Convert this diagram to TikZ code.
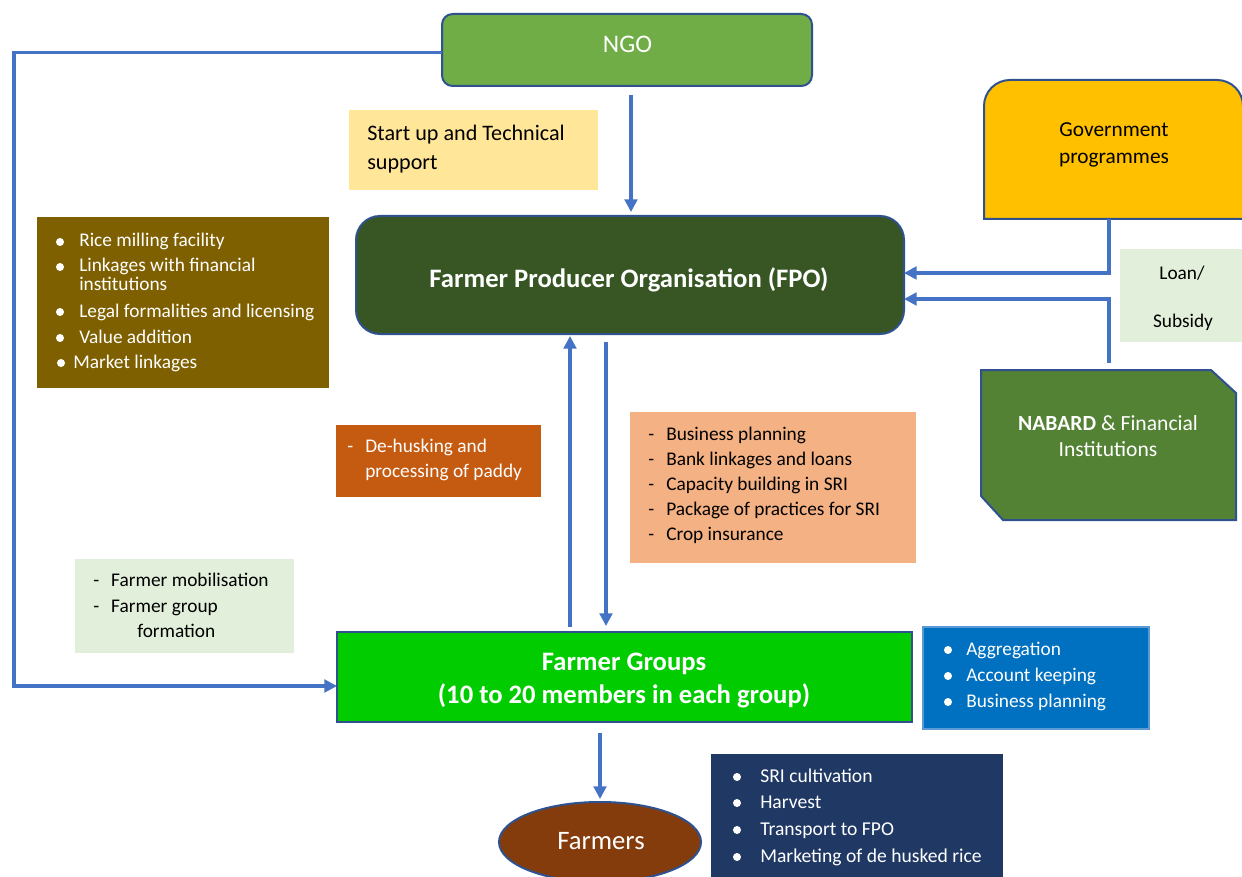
\documentclass[tikz,border=0pt]{standalone}
\usepackage{fontspec}
\setmainfont{Carlito}
\usetikzlibrary{arrows.meta,fit,shapes.geometric}
\definecolor{ngoc}{HTML}{70AD47}
\definecolor{startc}{HTML}{FFE699}
\definecolor{fpoc}{HTML}{375623}
\definecolor{brownc}{HTML}{7F6000}
\definecolor{govc}{HTML}{FFC000}
\definecolor{paleg}{HTML}{E2EFDA}
\definecolor{nabc}{HTML}{548235}
\definecolor{orangec}{HTML}{C55A11}
\definecolor{salmonc}{HTML}{F4B183}
\definecolor{fgc}{HTML}{00CC00}
\definecolor{bluec}{HTML}{0070C0}
\definecolor{blueedge}{HTML}{5B9BD5}
\definecolor{navyc}{HTML}{203864}
\definecolor{farmc}{HTML}{843C0C}
\definecolor{bordc}{HTML}{2F528F}
\definecolor{linec}{HTML}{4472C4}
\begin{document}
\begin{tikzpicture}[x=0.75pt,y=-0.75pt,
  area/.style={fit={#1}, inner sep=0pt, outer sep=0pt},
  edged/.style={draw=bordc, line width=1.5pt},
  conn/.style={draw=linec, line width=2.3pt},
  arr/.style={conn, -{Triangle[length=9.5pt,width=9.5pt]}},
  lst/.style={anchor=base west, inner sep=0pt, text=white, font=\fontsize{14.5}{17}\selectfont},
  blk/.style={lst, text=black}]
\clip (0,0) rectangle (1242,877);
\fill[white] (0,0) rectangle (1242,877);

% ---------- boxes ----------
\node[area={(442,14) (812,86)}, rounded corners=8pt, fill=ngoc, edged] (ngo) {};
\node[area={(349,110) (598,190)}, fill=startc] (start) {};
\node[area={(356,216) (904,334)}, rounded corners=18pt, fill=fpoc, edged] (fpo) {};
\node[area={(37,217) (329,388)}, fill=brownc] (brown) {};
\draw[edged, fill=govc] (984,219) -- (984,106) arc[start angle=180,end angle=90,radius=19.5pt]
  -- (1217,80) arc[start angle=90,end angle=0,radius=19.5pt] -- (1243,219) -- cycle;
\node[area={(984,80) (1243,219)}] (gov) {};
\node[area={(1120,249) (1242,342)}, fill=paleg] (loan) {};
\draw[edged, fill=nabc] (981,370) -- (1211,370) -- (1236,393) -- (1236,520) -- (1003,520) -- (981,496) -- cycle;
\node[area={(981,370) (1236,520)}] (nab) {};
\node[area={(336,425) (541,497)}, fill=orangec] (orange) {};
\node[area={(630,412) (916,563)}, fill=salmonc] (salmon) {};
\node[area={(75,559) (294,653)}, fill=paleg] (fm) {};
\node[area={(337,632) (912,722)}, fill=fgc, edged] (fg) {};
\node[area={(923,627) (1149,729)}, fill=bluec, draw=blueedge, line width=1pt] (blue) {};
\node[area={(711,754) (1003,880)}, fill=navyc] (navy) {};
\node[ellipse, minimum width=151.5pt, minimum height=60pt, inner sep=0pt, fill=farmc, edged] (farm) at (600,842) {};

% ---------- texts ----------
\node[anchor=base, inner sep=0pt, text=white, font=\fontsize{19}{20}\selectfont] (ngotext) at (627.5,53) {NGO};
\node[anchor=base, inner sep=0pt, text=white, font=\bfseries\fontsize{20}{20}\selectfont] (fpotext) at (629,287)
  {Farmer Producer Organisation (FPO)};
\node[anchor=base, inner sep=0pt, text=white, font=\fontsize{20}{20}\selectfont] (farmtext) at (601,849) {Farmers};

\node[blk, font=\fontsize{16.6}{19}\selectfont] (st1) at (367,141) {Start up and Technical};
\node[blk, font=\fontsize{16.6}{19}\selectfont] (st2) at (367,170) {support};

\node[align=center, font=\fontsize{16}{20.25}\selectfont] (govtext) at (1114,145) {Government\\programmes};
\node[font=\fontsize{14.5}{17}\selectfont] (loan1) at (1182,273) {Loan/};
\node[font=\fontsize{14.5}{17}\selectfont] (loan2) at (1183,322) {Subsidy};
\node[align=center, text=white, font=\fontsize{16.2}{19.5}\selectfont] (nabtext) at (1108,436)
  {\textbf{NABARD} \& Financial\\Institutions};
\node[align=center, text=white, font=\bfseries\fontsize{20}{24.75}\selectfont] (fgtext) at (624,680.5)
  {Farmer Groups\\(10 to 20 members in each group)};

% brown list
\foreach \t/\y [count=\i] in {Rice milling facility/247, Linkages with financial/272, institutions/291,
  Legal formalities and licensing/317, Value addition/343}
  \node[lst] (br\i) at (79,\y) {\t};
\node[lst] (br6) at (73,368) {Market linkages};
\foreach \x/\y in {60/242, 60/267, 60/312, 60/338, 61/363}
  \fill[white] (\x,\y) circle (4);

% salmon list
\foreach \t/\y [count=\i] in {Business planning/440, Bank linkages and loans/465,
  Capacity building in SRI/490, Package of practices for SRI/515, Crop insurance/540}
  \node[blk] (sa\i) at (648,\y) {\makebox[13.5pt][l]{-}\t};

% orange
\node[lst] (or1) at (347,452) {\makebox[13.5pt][l]{-}De-husking and};
\node[lst] (or2) at (365,477) {processing of paddy};

% farmer mobilisation
\node[blk] (fm1) at (93,586) {\makebox[13.5pt][l]{-}Farmer mobilisation};
\node[blk] (fm2) at (93,612) {\makebox[13.5pt][l]{-}Farmer group};
\node[blk] (fm3) at (137,637) {formation};

% blue list
\foreach \t/\y [count=\i] in {Aggregation/655, Account keeping/681, Business planning/707}
  \node[lst] (bl\i) at (966,\y) {\t};
\foreach \y in {650,676,702} \fill[white] (948,\y) circle (4);

% navy list
\foreach \t/\y [count=\i] in {SRI cultivation/782, Harvest/808, Transport to FPO/835, Marketing of de husked rice/862}
  \node[lst, font=\fontsize{14.7}{17}\selectfont] (nv\i) at (760,\y) {\t};
\foreach \y in {777,803,830,857} \fill[white] (737,\y) circle (4);

% ---------- connectors ----------
\draw[arr] ([yshift=-2pt]ngo.west) -| (14,686) -- ([yshift=-6.75pt]fg.west);
\draw[arr, shorten <=6.75pt, shorten >=3pt] (ngo.south -| 631,0) -- (fpo.north -| 631,0);
\draw[arr] (gov.south -| 1109,0) -- (1109,273) -- (fpo.east |- 0,273);
\draw[arr, shorten <=5.5pt] (nab.north -| 1109,0) -- (1109,299) -- (fpo.east |- 0,299);
\draw[arr, shorten <=3.75pt, shorten >=1.5pt] (fg.north -| 570,0) -- (fpo.south -| 570,0);
\draw[arr, shorten <=6pt, shorten >=4.5pt] (fpo.south -| 606,0) -- (fg.north -| 606,0);
\draw[arr, shorten <=8pt, shorten >=1.5pt] (fg.south -| 600,0) -- (farm.north);
\end{tikzpicture}
\end{document}
